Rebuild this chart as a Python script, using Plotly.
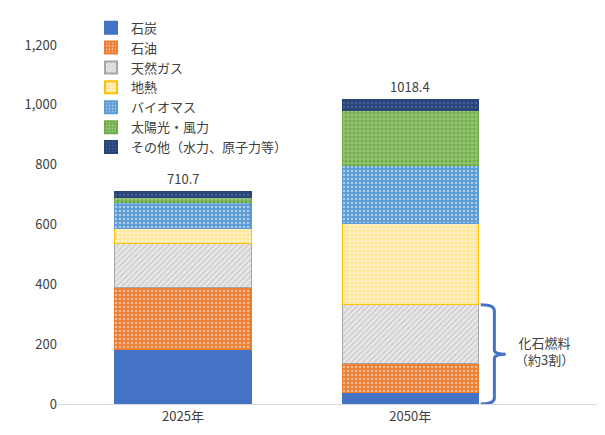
import plotly.graph_objects as go

years = ['2025年', '2050年']
totals = [710.7, 1018.4]
names = ['石炭', '石油', '天然ガス', '地熱', 'バイオマス', '太陽光・風力', 'その他（水力、原子力等）']
coal = [183, 37]
oil = [206, 99]
gas = [146, 196]
geo = [50, 270]
bio = [90, 196]
solar = [16, 183]
other = [19.7, 37.4]
series = [coal, oil, gas, geo, bio, solar, other]

# colour, pattern shape, pattern colour, background colour
styles = [
    ('#4472C4', '', None, None),
    ('#ED7D31', '.', 'white', '#ED7D31'),
    ('#A5A5A5', '/', '#A5A5A5', '#E8E8E8'),
    ('#FFC000', '+', '#FFC000', '#FFF2CC'),
    ('#5B9BD5', '.', 'white', '#5B9BD5'),
    ('#70AD47', '+', 'white', '#70AD47'),
    ('#264478', '.', '#5B7DB5', '#264478'),
]

fig = go.Figure()
for name, vals, (col, shape, fg, bg) in zip(names, series, styles):
    pattern = dict(shape=shape, size=4, solidity=0.3) if shape else None
    if shape:
        pattern.update(fgcolor=fg, bgcolor=bg, fillmode='overlay')
    fig.add_trace(go.Bar(
        x=years, y=vals, name=name, width=0.6,
        marker=dict(color=col, pattern=pattern,
                    line=dict(color=col, width=1)),
    ))

for yr, t in zip(years, totals):
    fig.add_annotation(x=yr, y=t, text=f'{t:g}', showarrow=False, yshift=13,
                       font=dict(size=13, color='#404040'))

# bracket for fossil fuels in 2050
fossil = coal[1] + oil[1] + gas[1]
fig.add_shape(type='path', xref='x', yref='y',
              path=f'M 1.31,{fossil} Q 1.37,{fossil} 1.37,{fossil-20} L 1.37,{fossil/2+15} '
                   f'Q 1.37,{fossil/2} 1.42,{fossil/2} Q 1.37,{fossil/2} 1.37,{fossil/2-15} '
                   f'L 1.37,20 Q 1.37,0 1.31,0',
              line=dict(color='#4472C4', width=3))
fig.add_annotation(x=1.45, y=fossil/2 + 10, xanchor='left', showarrow=False,
                   text='化石燃料<br>（約3割）', align='center',
                   font=dict(size=13, color='#404040'))

fig.update_layout(
    barmode='stack', width=605, height=435,
    paper_bgcolor='white', plot_bgcolor='white',
    font=dict(family='Noto Sans CJK JP', size=13, color='#404040'),
    margin=dict(l=50, r=5, t=35, b=39),
    showlegend=True,
    legend=dict(x=0.06, y=1.09, xanchor='left', yanchor='top', traceorder='normal',
                bgcolor='rgba(255,255,255,0)', font=dict(size=13),
                itemwidth=30, tracegroupgap=0, itemsizing='constant'),
)
fig.update_xaxes(showline=True, linecolor='#D9D9D9', range=[-0.55, 1.87], tickfont=dict(size=13))
fig.update_yaxes(range=[0, 1200], dtick=200, tickformat=',', showgrid=False,
                 tickfont=dict(size=13), zeroline=False)
fig.write_html('out.html')
